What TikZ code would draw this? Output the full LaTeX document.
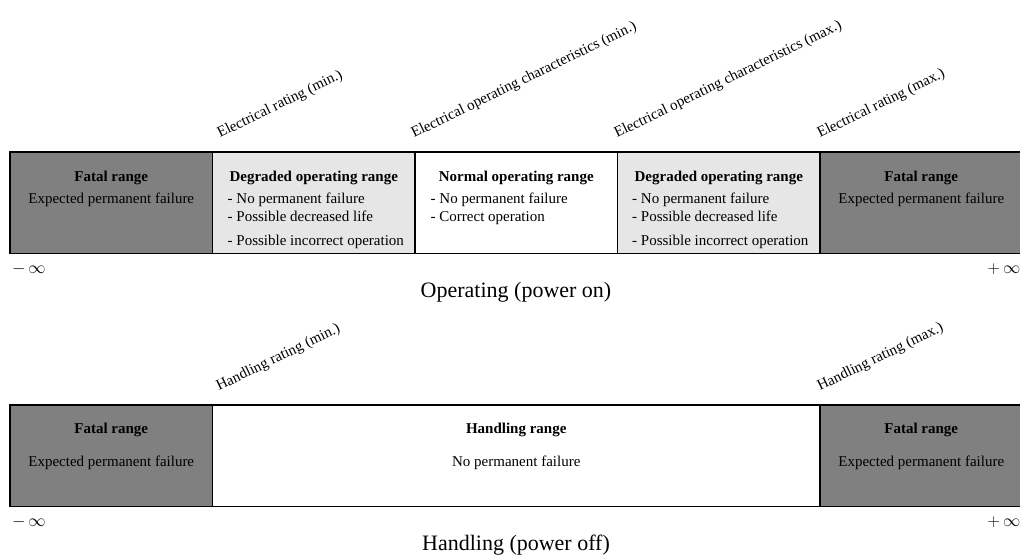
\documentclass[tikz,border=0pt]{standalone}
\usepackage{fontspec}
\setmainfont{Liberation Serif}
\definecolor{fatalgray}{HTML}{808080}
\definecolor{degradedgray}{HTML}{E6E6E6}
\begin{document}
\begin{tikzpicture}[x=1pt,y=-1pt,
  cell/.style={draw=black, line width=1.2pt},
  boxtext/.style={font=\fontsize{15}{18}\selectfont, inner sep=0pt, anchor=base},
  boxtitle/.style={font=\fontsize{15}{18}\selectfont\bfseries, inner sep=0pt, anchor=base},
  item/.style={font=\fontsize{15}{18}\selectfont, inner sep=0pt, anchor=base west},
  limitlabel/.style={font=\fontsize{15}{17}\selectfont, rotate=26, anchor=base west, inner sep=0pt},
  captiontext/.style={font=\fontsize{22}{26}\selectfont, inner sep=0pt, anchor=base},
  inftext/.style={font=\fontsize{16}{18}\selectfont, inner sep=0pt, anchor=base}]
\useasboundingbox (0,0) rectangle (1020,556);

% ---------- Operating band ----------
\fill[fatalgray] (10,152) rectangle (212.5,253.5);
\fill[degradedgray] (212.5,152) rectangle (415,253.5);
\fill[white] (415,152) rectangle (617.5,253.5);
\fill[degradedgray] (617.5,152) rectangle (820,253.5);
\fill[fatalgray] (820,152) rectangle (1023,253.5);
\draw[cell] (10,152) rectangle (1023,253.5);
\draw[cell] (212.5,152) -- (212.5,253.5);
\draw[cell] (415,152) -- (415,253.5);
\draw[cell] (617.5,152) -- (617.5,253.5);
\draw[cell] (820,152) -- (820,253.5);

\node[boxtitle] (f1t) at (111.25,181.5) {Fatal range};
\node[boxtext] (f1d) at (111.25,204) {Expected permanent failure};

\node[boxtitle] (d1t) at (313.75,181.5) {Degraded operating range};
\node[item] (d1a) at (227.5,204) {- No permanent failure};
\node[item] (d1b) at (227.5,221.5) {- Possible decreased life};
\node[item] (d1c) at (227.5,246) {- Possible incorrect operation};

\node[boxtitle] (n1t) at (516.25,181.5) {Normal operating range};
\node[item] (n1a) at (430.5,204) {- No permanent failure};
\node[item] (n1b) at (430.5,221.5) {- Correct operation};

\node[boxtitle] (d2t) at (718.75,181.5) {Degraded operating range};
\node[item] (d2a) at (632,204) {- No permanent failure};
\node[item] (d2b) at (632,221.5) {- Possible decreased life};
\node[item] (d2c) at (632,246) {- Possible incorrect operation};

\node[boxtitle] (f2t) at (921.25,181.5) {Fatal range};
\node[boxtext] (f2d) at (921.25,204) {Expected permanent failure};

\node[limitlabel] (l1) at (220,138) {Electrical rating (min.)};
\node[limitlabel] (l2) at (414,138) {Electrical operating characteristics (min.)};
\node[limitlabel] (l3) at (617,138) {Electrical operating characteristics (max.)};
\node[limitlabel] (l4) at (820,138) {Electrical rating (max.)};

\node[inftext] (mi1) at (29,273.5) {$-\,\infty$};
\node[inftext] (pi1) at (1004,273.5) {$+\,\infty$};
\node[captiontext] (c1) at (516,297) {Operating (power on)};

% ---------- Handling band ----------
\fill[fatalgray] (10,405) rectangle (212.5,506.5);
\fill[white] (212.5,405) rectangle (820,506.5);
\fill[fatalgray] (820,405) rectangle (1023,506.5);
\draw[cell] (10,405) rectangle (1023,506.5);
\draw[cell] (212.5,405) -- (212.5,506.5);
\draw[cell] (820,405) -- (820,506.5);

\node[boxtitle] (f3t) at (111.25,433.5) {Fatal range};
\node[boxtext] (f3d) at (111.25,466) {Expected permanent failure};
\node[boxtitle] (ht) at (516.25,433.5) {Handling range};
\node[boxtext] (hd) at (516.25,466) {No permanent failure};
\node[boxtitle] (f4t) at (921.25,433.5) {Fatal range};
\node[boxtext] (f4d) at (921.25,466) {Expected permanent failure};

\node[limitlabel] (l5) at (219,391) {Handling rating (min.)};
\node[limitlabel] (l6) at (820,391) {Handling rating (max.)};

\node[inftext] (mi2) at (29,526.5) {$-\,\infty$};
\node[inftext] (pi2) at (1004,526.5) {$+\,\infty$};
\node[captiontext] (c2) at (516,550) {Handling (power off)};
\end{tikzpicture}
\end{document}
